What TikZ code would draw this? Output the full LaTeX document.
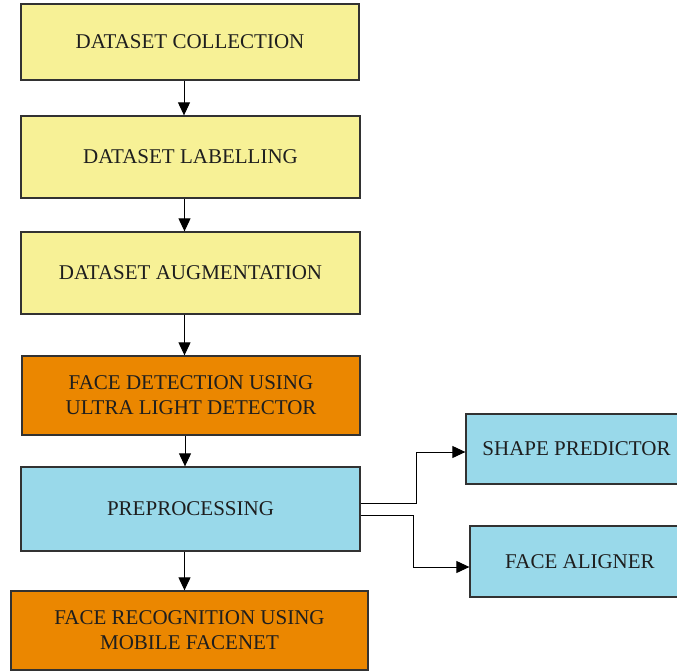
\documentclass[tikz,border=0pt]{standalone}
\usepackage{fontspec}
\setmainfont{Liberation Serif}
\usetikzlibrary{arrows.meta}
\definecolor{boxyellow}{RGB}{247,241,150}
\definecolor{boxorange}{RGB}{235,135,0}
\definecolor{boxblue}{RGB}{153,217,234}
\definecolor{edgegray}{RGB}{50,50,50}
\definecolor{txt}{RGB}{30,30,30}
\tikzset{
  stage/.style={draw=edgegray, line width=1.3pt, text=txt, align=center,
    font=\fontsize{21}{25}\selectfont, inner sep=0pt},
  yel/.style={stage, fill=boxyellow},
  org/.style={stage, fill=boxorange},
  blu/.style={stage, fill=boxblue},
  arr/.style={draw=black, line width=1pt, -{Triangle[length=13pt,width=12pt]}}
}
\begin{document}
\begin{tikzpicture}[x=1pt,y=1pt]
\useasboundingbox (0,0) rectangle (677,-671);
\node[yel, minimum width=338pt, minimum height=76pt] (c1) at (190,-42) {DATASET COLLECTION};
\node[yel, minimum width=339pt, minimum height=82pt] (c2) at (190.5,-157) {DATASET LABELLING};
\node[yel, minimum width=339pt, minimum height=82pt] (c3) at (190.5,-273) {DATASET AUGMENTATION};
\node[org, minimum width=338pt, minimum height=79pt] (c4) at (191,-395.5) {FACE DETECTION USING\\ULTRA LIGHT DETECTOR};
\node[blu, minimum width=339pt, minimum height=84pt] (c5) at (190.5,-509) {PREPROCESSING};
\node[org, minimum width=357pt, minimum height=79pt] (c6) at (189.5,-630.5) {FACE RECOGNITION USING\\MOBILE FACENET};
\node[blu, minimum width=221pt, minimum height=70pt] (sp) at (576.5,-449) {SHAPE PREDICTOR};
\node[blu, minimum width=220pt, minimum height=71pt] (fa) at (580,-561.5) {FACE ALIGNER};
% main flow
\foreach \a/\b in {c1/c2,c2/c3,c3/c4,c4/c5,c5/c6}
  \draw[arr] ([xshift=-6pt]\a.south) -- ([xshift=-6pt]\a.south |- \b.north);
% side branches
\draw[arr] ([yshift=6pt]c5.east) -- ++(56,0) |- ([yshift=-3pt]sp.west);
\draw[arr] ([yshift=-6pt]c5.east) -- ++(53,0) |- ([yshift=-5.5pt]fa.west);
\end{tikzpicture}
\end{document}
